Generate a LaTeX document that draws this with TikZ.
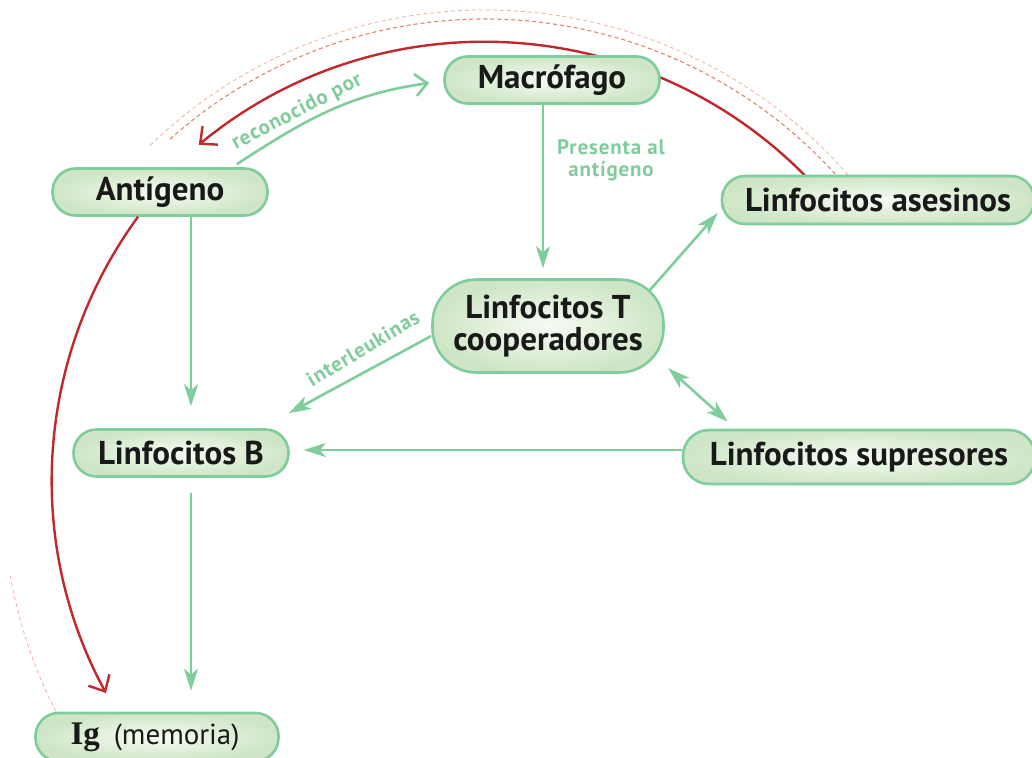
\documentclass[tikz,border=0pt]{standalone}
\usepackage{fontspec}
\setmainfont{PT Sans}
\newfontfamily\igfont{Liberation Serif}
\newfontfamily\labfont[LetterSpace=4]{PT Sans}
\usetikzlibrary{arrows.meta,calc}
\definecolor{gr}{HTML}{7FCC9C}
\definecolor{fillout}{HTML}{CFE6C6}
\definecolor{fillin}{HTML}{F6FBF3}
\definecolor{rd}{HTML}{C1272D}
\definecolor{dsa}{HTML}{E08468}
\definecolor{dsb}{HTML}{EFB29E}
\begin{document}
\begin{tikzpicture}[x=1pt,y=-1pt,
  box/.style={draw=gr, line width=2.6pt, rounded corners=23pt, inner color=fillin, outer color=fillout,
    minimum height=47pt, inner sep=0pt, align=center, text=black!90,
    font=\fontsize{33}{32}\selectfont\bfseries},
  garrow/.style={draw=gr, line width=2.6pt, -{Stealth[length=22pt,width=14pt,inset=6pt]}},
  gboth/.style={draw=gr, line width=2.6pt, {Stealth[length=22pt,width=14pt,inset=6pt]}-{Stealth[length=22pt,width=14pt,inset=6pt]}},
  gopen/.style={draw=gr, line width=2.6pt, -{Straight Barb[length=12pt,width=22pt]}},
  rarrow/.style={draw=rd, line width=2.4pt, -{Straight Barb[length=13pt,width=24pt]}},
  dinner/.style={draw=dsa, line width=1.1pt, dash pattern=on 4pt off 3pt},
  douter/.style={draw=dsb, line width=0.8pt, dash pattern=on 4pt off 3pt},
  glabel/.style={text=gr, font=\labfont\fontsize{21}{21}\selectfont\bfseries, inner sep=0pt, align=center}
]
\useasboundingbox (0,0) rectangle (1032,757);
\clip (0,0) rectangle (1032,757);
\coordinate (c) at (485,492);
% decorative dashed arcs
\draw[douter] ($(c)+(-37:482)$) arc[start angle=-37, end angle=-134, radius=482];
\draw[douter] ($(c)+(-190:482)$) arc[start angle=-190, end angle=-208, radius=482];
\draw[dinner] ($(c)+(-38:473)$) arc[start angle=-38, end angle=-132, radius=473];
% red arc behind Macrofago
\draw[rarrow] ($(c)+(-42:450)$) coordinate (rstart) arc[start angle=-42, end angle=-129.5, radius=450] coordinate (rend);

% nodes
\node[box, minimum width=215pt] (macro) at (552,80) {Macrófago};
\node[box, minimum width=215pt] (anti) at (160,192) {Antígeno};
\node[box, minimum width=312pt, minimum height=48pt] (ases) at (878,200) {Linfocitos asesinos};
\node[box, minimum width=231pt, minimum height=93pt, rounded corners=44pt] (T) at (548,326) {Linfocitos T\\cooperadores};
\node[box, minimum width=215pt] (B) at (181,453) {Linfocitos B};
\node[box, minimum width=352pt, minimum height=54pt, rounded corners=26pt] (sup) at (859,457) {Linfocitos supresores};
\node[box, minimum width=243pt, minimum height=48pt] (ig) at (157,737) {\hspace*{-4pt}{\igfont Ig}\hspace{14pt}{\mdseries\fontsize{29}{32}\selectfont(memoria)}};

% green connectors
\draw[gopen] ($(anti.north east)+(-32,-3)$) to[out=33, in=-172] ($(macro.west)+(-14,3)$);
\draw[garrow] ([xshift=-9pt]macro.south) -- ($(T.north)+(-5,-10)$);
\draw[garrow] ($(anti.south)+(31,0)$) -- ($(B.north)+(10,-22)$);
\draw[garrow] ($(B.south)+(10,15)$) -- ($(ig.north)+(34,-21)$);
\draw[garrow] ($(T.west)+(0,10)$) -- ($(B.north east)+(-1,-15)$);
\draw[garrow] ($(T.north east)+(-15,12)$) -- ($(ases.west)+(-3,13)$);
\draw[gboth] ($(T.south east)+(3.5,-5.5)$) -- ($(sup.north west)+(46,-7)$);
\draw[garrow] ($(sup.west)+(0,-7)$) -- ($(B.east)+(14,-3)$);

% red connector Antigeno -> Ig (arc)
\draw[rarrow] ($(anti.south)+(-22,0)$) arc[start angle=-143.8, end angle=-208.5, radius=446];

% labels
\node[glabel, rotate=27.5] (lrec) at (297,112) {reconocido por};
\node[glabel, rotate=31] (lint) at (363,348) {interleukinas};
\node[glabel, font=\labfont\fontsize{21}{22}\selectfont\bfseries] (lpre) at (611,160) {Presenta al\\antígeno};
\end{tikzpicture}
\end{document}
